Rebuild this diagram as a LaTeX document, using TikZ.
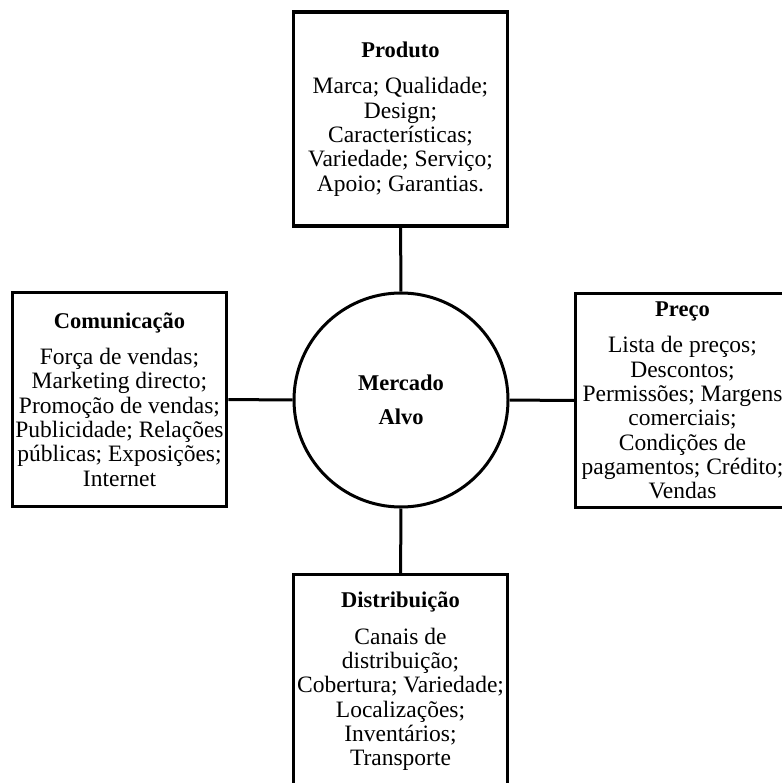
\documentclass[tikz,border=0pt]{standalone}
\usepackage{fontspec}
\setmainfont{Liberation Serif}
\tikzset{
  mixbox/.style={draw, line width=3.5pt, minimum width=214pt, minimum height=214pt,
    inner sep=0pt, align=center, font=\fontsize{23.5}{24.3}\selectfont},
  target/.style={draw, circle, line width=3pt, minimum size=214pt, inner sep=0pt,
    align=center, font=\bfseries\fontsize{22.5}{24}\selectfont},
  link/.style={line width=3pt},
}
\newcommand{\mixtitle}[1]{{\bfseries\fontsize{22.5}{24}\selectfont #1}\\[12pt]}

\begin{document}
\begin{tikzpicture}[x=1pt,y=-1pt]
  \useasboundingbox (0,0) rectangle (781,783);
  % centre
  \node[target] (alvo) at (401,400) {Mercado\\[10pt]Alvo};
  % the four P
  \node[mixbox] (produto) at (400.5,119) {\mixtitle{Produto}Marca; Qualidade;\\Design;\\Características;\\Variedade; Serviço;\\Apoio; Garantias.};
  \node[mixbox] (comunicacao) at (119.5,399.5) {\mixtitle{Comunicação}Força de vendas;\\Marketing directo;\\Promoção de vendas;\\Publicidade; Relações\\públicas; Exposições;\\Internet};
  \node[mixbox] (preco) at (682.5,400.5) {\mixtitle{Preço}Lista de preços;\\Descontos;\\Permissões; Margens\\comerciais;\\Condições de\\pagamentos; Crédito;\\Vendas};
  \node[mixbox] (distribuicao) at (400.5,681.5) {\mixtitle{Distribuição}Canais de\\distribuição;\\Cobertura; Variedade;\\Localizações;\\Inventários;\\Transporte};
  % links
  \draw[link] (produto) -- (alvo);
  \draw[link] (comunicacao) -- (alvo);
  \draw[link] (alvo) -- (preco);
  \draw[link] (alvo) -- (distribuicao);
\end{tikzpicture}
\end{document}
